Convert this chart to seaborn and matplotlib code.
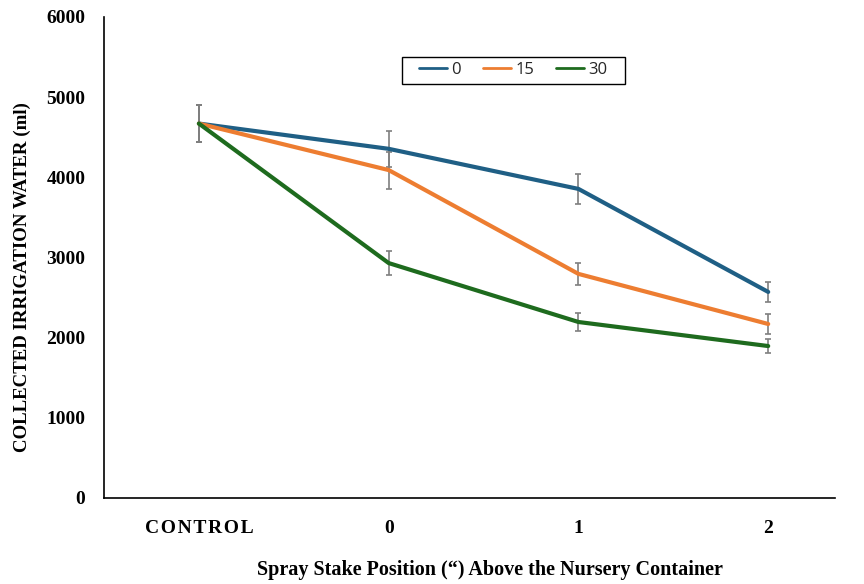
import numpy as np
import pandas as pd
import matplotlib
matplotlib.use('Agg')
import matplotlib.pyplot as plt
import matplotlib.patches as mpatches
import seaborn as sns

# data
positions   = ['CONTROL', '0', '1', '2']
series      = ['0', '15', '30']
water_0     = [4670, 4355, 3855, 2570]
water_15    = [4670, 4090, 2795, 2170]
water_30    = [4670, 2930, 2195, 1895]
err_0       = [230, 225, 190, 125]
err_15      = [230, 230, 140, 120]
err_30      = [230, 150, 110, 90]

colors      = ['#1f5f85', '#ed7d31', '#1e6b1e']

df = pd.DataFrame({
    'position': positions * 3,
    'water':    water_0 + water_15 + water_30,
    'err':      err_0 + err_15 + err_30,
    'series':   np.repeat(series, len(positions)),
})

sns.set_theme(style='white')
plt.rcParams['font.family'] = ['Liberation Serif', 'DejaVu Serif']

fig = plt.figure(figsize=(8.64, 5.84), dpi=100)
ax = fig.add_axes([0.1204, 0.1473, 0.8456, 0.8237])

sns.lineplot(data=df, x='position', y='water', hue='series', hue_order=series,
             palette=colors, linewidth=3, ax=ax, sort=False, errorbar=None)

# error bars, drawn per series on the category index
for s in series:
    sub = df[df.series == s]
    ax.errorbar(np.arange(len(positions)), sub.water, yerr=sub.err, fmt='none',
                ecolor='#7f7f7f', elinewidth=1.2, capsize=2.3, capthick=1.2, zorder=1)

ax.set_ylim(0, 6000)
ax.set_xlim(-0.5, 3.35)
ax.set_yticks(range(0, 6001, 1000))
ax.set_xticks(range(len(positions)))
# the reference spreads the letters of the first label
ax.set_xticklabels(['\u200a'.join(p) for p in positions])
ax.tick_params(axis='both', length=0, labelsize=14, colors='black')
ax.tick_params(axis='x', pad=15.5)
ax.tick_params(axis='y', pad=13.5)
for lbl in ax.get_xticklabels() + ax.get_yticklabels():
    lbl.set_fontweight('bold')

for side in ['top', 'right']:
    ax.spines[side].set_visible(False)
for side in ['left', 'bottom']:
    ax.spines[side].set_color('black')
    ax.spines[side].set_linewidth(1.2)

ax.set_xlabel('')
ax.set_ylabel('COLLECTED IRRIGATION WATER (ml)', fontsize=13.6, fontweight='bold', color='black')
ax.yaxis.set_label_coords(-0.100, 0.46)
fig.text(0.567, 0.007, 'Spray Stake Position (\u201c) Above the Nursery Container',
         ha='center', va='bottom', fontsize=14.5, fontweight='bold', color='black')

leg = ax.legend(title=None, ncol=3, loc='center', bbox_to_anchor=(0.56, 0.889),
                frameon=False, handlelength=1.7, columnspacing=1.3,
                handletextpad=0.25, prop={'family': 'Open Sans', 'size': 12})
for h in leg.get_lines():
    h.set_linewidth(2)
# plain black box round the legend, wider than its contents as in the reference
ax.add_patch(mpatches.Rectangle((0.4077, 0.8607), 0.305, 0.0561, transform=ax.transAxes,
                                fill=False, edgecolor='black', linewidth=1.0, zorder=5))

fig.savefig('out.png', dpi=100)
